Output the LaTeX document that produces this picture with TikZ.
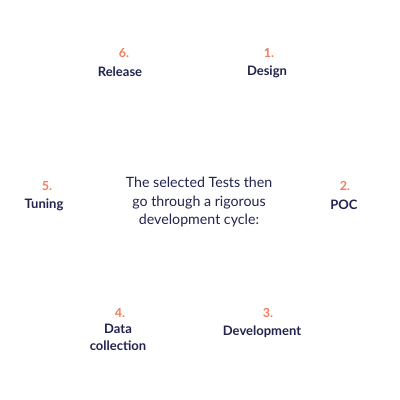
\documentclass[tikz,border=0pt]{standalone}
\usepackage{fontspec}
\setmainfont{Lato}
\definecolor{navy}{HTML}{22234F}
\definecolor{coral}{HTML}{F47C5A}
\begin{document}
\begin{tikzpicture}[x=1pt,y=-1pt,
  num/.style={text=coral,font=\fontsize{12.5}{14}\selectfont\bfseries,inner sep=0pt},
  lab/.style={text=navy,font=\fontsize{13}{17}\selectfont\bfseries,inner sep=0pt,align=center},
  mid/.style={text=navy,font=\fontsize{14.2}{18.5}\selectfont,inner sep=0pt,align=center}]
\useasboundingbox[fill=white] (0,0) rectangle (400,400);
\node[num] (n6) at (124,53) {6.};
\node[lab] (l6) at (120,72) {Release};
\node[num] (n1) at (269,53) {1.};
\node[lab] (l1) at (267,72) {Design};
\node[num] (n5) at (47,186) {5.};
\node[lab] (l5) at (44,205) {Tuning};
\node[num] (n2) at (345,186) {2.};
\node[lab] (l2) at (344,205) {POC};
\node[num] (n4) at (120,313) {4.};
\node[lab] (l4) at (118,337) {Data\\collection};
\node[num] (n3) at (268,313) {3.};
\node[lab] (l3) at (262,332) {Development};
\node[mid] (c) at (199,202) {The selected Tests then\\go through a rigorous\\development cycle:};
\end{tikzpicture}
\end{document}
